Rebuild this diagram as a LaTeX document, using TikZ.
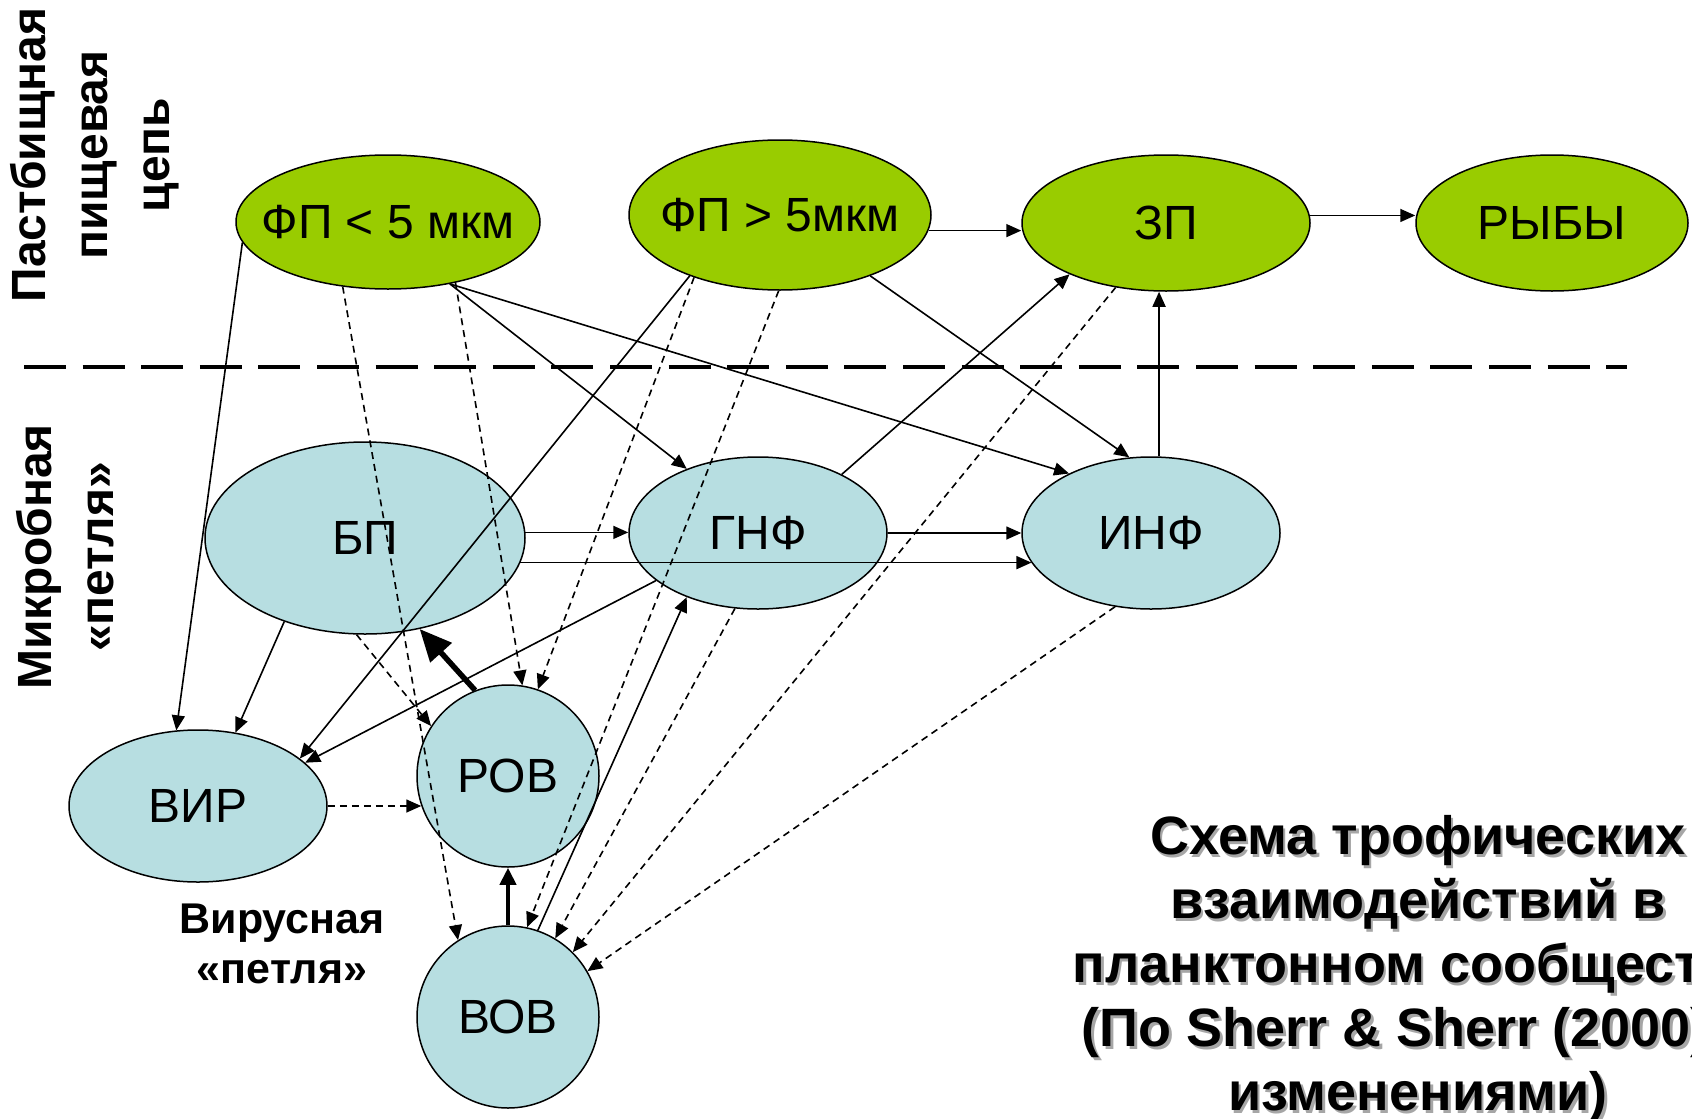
\documentclass[tikz,border=0pt]{standalone}
\usepackage{fontspec}
\setmainfont{Liberation Sans}
\usetikzlibrary{arrows.meta,shapes.geometric,calc}
\definecolor{grn}{RGB}{153,204,0}
\definecolor{lblue}{RGB}{183,222,225}
\begin{document}
\begin{tikzpicture}[x=1pt,y=-1pt,
  base/.style={ellipse, draw=black, line width=1.5pt, inner sep=0pt},
  gnode/.style={base, fill=grn},
  bnode/.style={base, fill=lblue},
  txt/.style={label={[font=\fontsize{48}{54}\selectfont, inner sep=0pt]center:#1}},
  arr/.style={-{Triangle[length=15pt,width=13pt]}, line width=1.6pt},
  darr/.style={arr, dash pattern=on 7pt off 5pt},
  thickarr/.style={-{Triangle[length=32pt,width=28pt]}, line width=5.5pt},
  medarr/.style={-{Triangle[length=17pt,width=16pt]}, line width=4pt},
  side/.style={rotate=90, align=center, font=\bfseries\fontsize{48}{62}\selectfont},
  titletext/.style={align=center, font=\bfseries\fontsize{54}{64}\selectfont}]
\useasboundingbox (0,0) rectangle (1692,1119);
\fill[white] (0,0) rectangle (1692,1119);

% nodes (fixed shape size, text as centred label)
\node[gnode, minimum width=304pt, minimum height=134pt, txt={ФП < 5 мкм}] (fpa) at (388,222) {};
\node[gnode, minimum width=302pt, minimum height=150pt, txt={ФП > 5мкм}] (fpb) at (780,215) {};
\node[gnode, minimum width=288pt, minimum height=136pt, txt={ЗП}] (zp) at (1166,223) {};
\node[gnode, minimum width=272pt, minimum height=136pt, txt={РЫБЫ}] (fish) at (1552,223) {};
\node[bnode, minimum width=320pt, minimum height=192pt, txt={БП}] (bp) at (365,538) {};
\node[bnode, minimum width=258pt, minimum height=152pt, txt={ГНФ}] (gnf) at (758,533) {};
\node[bnode, minimum width=258pt, minimum height=152pt, txt={ИНФ}] (inf) at (1151,533) {};
\node[bnode, minimum width=258pt, minimum height=152pt, txt={ВИР}] (vir) at (198,806) {};
\node[bnode, minimum width=182pt, minimum height=182pt, txt={РОВ}] (rov) at (508,776) {};
\node[bnode, minimum width=182pt, minimum height=182pt, txt={ВОВ}] (vov) at (508,1017) {};

% labels
\node[side] (lab1) at (95,155) {Пастбищная\\пищевая\\цепь};
\node[side] (lab2) at (65,557) {Микробная\\«петля»};
\node[align=center, font=\bfseries\fontsize{43}{50}\selectfont] (lab3) at (282,944) {Вирусная\\«петля»};

% divider
\coordinate (d1) at (24,367);
\coordinate (d2) at (1627,367);
\draw[line width=4.5pt, dash pattern=on 42pt off 16.6pt] (d1) -- (d2);

% solid connectors
\draw[arr] (fpa.188.6) -- (vir.106);
\draw[arr] (fpa.315) -- (gnf.138.5);
\draw[arr] (fpa.315) -- (inf.144.1);
\draw[arr] (fpb.-6) -- (fpb.-6 -| zp.west);
\draw[arr] (zp.3) -- (zp.3 -| fish.west);
\draw[arr] (fpb.214.6) -- (vir.25.6);
\draw[arr] (fpb.326) -- (inf.106.8);
\draw[arr] (inf.84) -- (inf.84 |- zp.south);
\draw[arr] (gnf.35.9) -- (zp.208.9);
\draw[arr] (bp.2) -- (bp.2 -| gnf.west);
\draw[arr] (bp.-9.6) -- (inf.194.7 |- bp.-9.6);
\draw[arr] (gnf.east) -- (inf.west);
\draw[arr] (bp.226) -- (vir.63.1);
\draw[arr] (gnf.205.4) -- (vir.22.7);
\draw[arr] (vov.71.6) -- (gnf.222.8);

% thick connectors
\draw[thickarr] (rov.111.7) -- (bp.301.8);
\draw[medarr] (vov.north) -- (rov.south);

% dashed connectors
\draw[darr] (fpa.235.9) -- (vov.123.2);
\draw[darr] (bp.265.4) -- (rov.147.9);
\draw[darr] (fpa.318) -- (rov.81.4);
\draw[darr] (fpb.216) -- (rov.71);
\draw[darr] (fpb.269) -- (vov.78);
\draw[darr] (gnf.253.6) -- (vov.59.7);
\draw[darr] (zp.232.7) -- (vov.45.8);
\draw[darr] (inf.244.4) -- (vov.30.3);
\draw[darr] (vir.east) -- (rov.199 |- vir.east);

% title with shadow (cut at the right edge as in the reference)
\begin{scope}
\clip (0,0) rectangle (1692,1119);
\node[titletext, text=black!35] (tshadow) at (1420.5,971.5) {Схема трофических\\взаимодействий в\\планктонном сообществе\\(По Sherr \& Sherr (2000) с\\изменениями)};
\node[titletext] (title) at (1418,969) {Схема трофических\\взаимодействий в\\планктонном сообществе\\(По Sherr \& Sherr (2000) с\\изменениями)};
\end{scope}
\end{tikzpicture}
\end{document}
